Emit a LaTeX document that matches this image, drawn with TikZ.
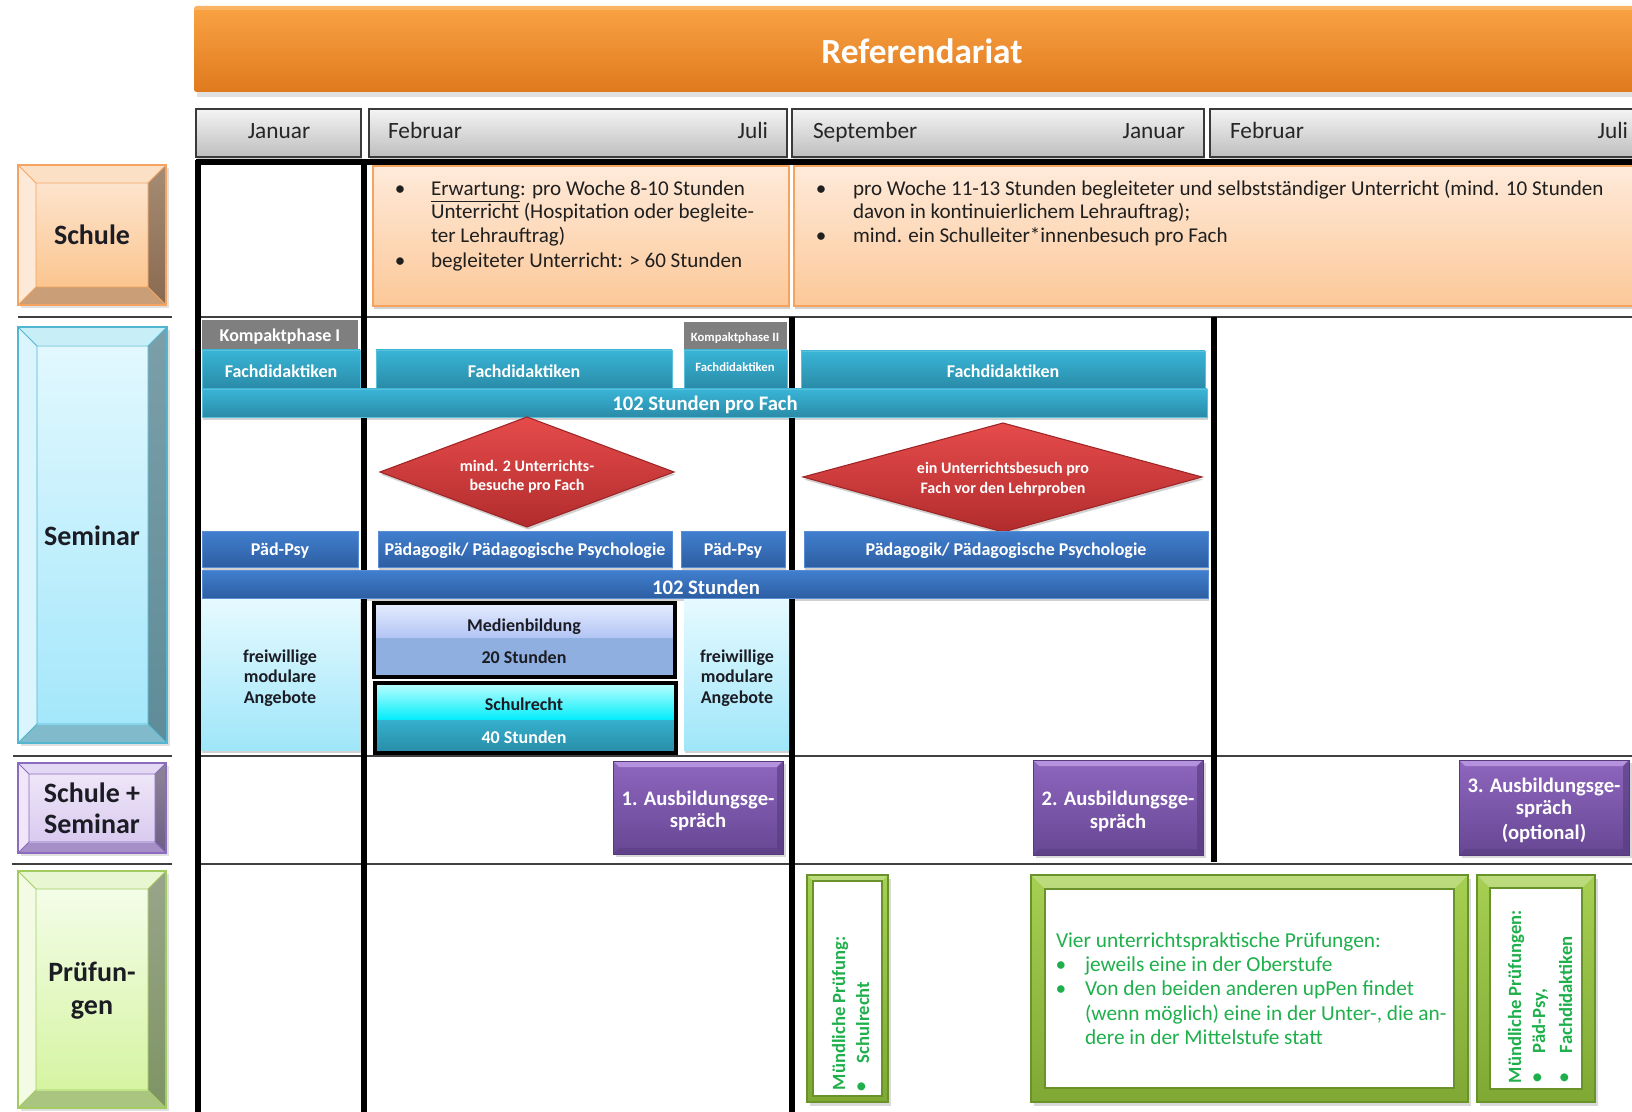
\documentclass[tikz,border=0pt]{standalone}
\usepackage{fontspec}
\setmainfont{Carlito}
\usetikzlibrary{calc}

% ---------- colours ----------
\definecolor{orT}{HTML}{F9A444}
\definecolor{orB}{HTML}{E0791E}
\definecolor{hdT}{HTML}{F4F4F4}
\definecolor{hdB}{HTML}{BEBEBE}
\definecolor{hdE}{HTML}{3A3A3A}
\definecolor{pchT}{HTML}{FEEADA}
\definecolor{pchB}{HTML}{FCC898}
\definecolor{pchE}{HTML}{F6A35E}
\definecolor{tlT}{HTML}{39B5D7}
\definecolor{tlB}{HTML}{2A8BA8}
\definecolor{tlE}{HTML}{5CC0DA}
\definecolor{blT}{HTML}{417FCF}
\definecolor{blB}{HTML}{2D5EA2}
\definecolor{blE}{HTML}{5A8ED4}
\definecolor{rdT}{HTML}{E64B4B}
\definecolor{rdB}{HTML}{B22C2D}
\definecolor{rdE}{HTML}{9E2526}
\definecolor{puT}{HTML}{8E66BE}
\definecolor{puB}{HTML}{674794}
\definecolor{puH}{HTML}{B592DE}
\definecolor{puD}{HTML}{553A7C}
\definecolor{gnT}{HTML}{A6D052}
\definecolor{gnB}{HTML}{7FA834}
\definecolor{gnD}{HTML}{6A922A}
\definecolor{gtxt}{HTML}{1FB04C}
\definecolor{cyT}{HTML}{E6FAFF}
\definecolor{cyB}{HTML}{9FE6F9}
\definecolor{kpG}{HTML}{7F7F7F}
\definecolor{gridC}{HTML}{404040}
\definecolor{darktxt}{HTML}{1C1C24}
\definecolor{mbT}{HTML}{E6EDFF}
\definecolor{mbM}{HTML}{B2C4F4}
\definecolor{mbL}{HTML}{8EAFE0}
\definecolor{srT}{HTML}{BEFFFF}
\definecolor{srM}{HTML}{00ECFA}
\definecolor{srL}{HTML}{35B0CE}
\definecolor{srB}{HTML}{288CA6}
% bevel sets: Fa/Fb face, Tp top, Lf left, Ra/Rb right, Bt bottom, Ed edge
\definecolor{scFa}{HTML}{FDE4CD}\definecolor{scFb}{HTML}{FBC58F}
\definecolor{scTp}{HTML}{FCE0C6}\definecolor{scLf}{HTML}{FDE9D8}
\definecolor{scRa}{HTML}{A68C74}\definecolor{scRb}{HTML}{886A50}
\definecolor{scBt}{HTML}{CA9F77}\definecolor{scEd}{HTML}{F4A460}
\definecolor{seFa}{HTML}{E2F8FE}\definecolor{seFb}{HTML}{A4E7FB}
\definecolor{seTp}{HTML}{C8EEF8}\definecolor{seLf}{HTML}{DAF5FD}
\definecolor{seRa}{HTML}{7C9FA9}\definecolor{seRb}{HTML}{5E8C98}
\definecolor{seBt}{HTML}{80BACB}\definecolor{seEd}{HTML}{52B6D0}
\definecolor{ssFa}{HTML}{EEE6F8}\definecolor{ssFb}{HTML}{D9CAEF}
\definecolor{ssTp}{HTML}{E4D9F4}\definecolor{ssLf}{HTML}{EFE7F9}
\definecolor{ssRa}{HTML}{8E8599}\definecolor{ssRb}{HTML}{6E5E86}
\definecolor{ssBt}{HTML}{A68FC6}\definecolor{ssEd}{HTML}{8A6BBD}
\definecolor{prFa}{HTML}{F3FDE8}\definecolor{prFb}{HTML}{D6F4A2}
\definecolor{prTp}{HTML}{E8F7D2}\definecolor{prLf}{HTML}{F3FBE5}
\definecolor{prRa}{HTML}{99A58B}\definecolor{prRb}{HTML}{7E9464}
\definecolor{prBt}{HTML}{A9C57F}\definecolor{prEd}{HTML}{A2CB60}

\newcommand{\fsz}[1]{\fontsize{#1}{#1}\selectfont}

% raised label box with bevelled rim
\newcommand{\bevelbox}[6]{%
  \fill[black, opacity=0.12] ({#1+3},{#2+3}) rectangle ({#3+3},{#4+3});
  \fill[#6Tp] (#1,#2) -- (#3,#2) -- ({#3-#5},{#2+#5}) -- ({#1+#5},{#2+#5}) -- cycle;
  \fill[#6Lf] (#1,#2) -- ({#1+#5},{#2+#5}) -- ({#1+#5},{#4-#5}) -- (#1,#4) -- cycle;
  \shade[top color=#6Ra, bottom color=#6Rb] (#3,#2) -- (#3,#4) -- ({#3-#5},{#4-#5}) -- ({#3-#5},{#2+#5}) -- cycle;
  \fill[#6Bt] (#1,#4) -- (#3,#4) -- ({#3-#5},{#4-#5}) -- ({#1+#5},{#4-#5}) -- cycle;
  \shade[top color=#6Fa, bottom color=#6Fb] ({#1+#5},{#2+#5}) rectangle ({#3-#5},{#4-#5});
  \draw[#6Ed, line width=0.7] ({#1+#5},{#2+#5}) rectangle ({#3-#5},{#4-#5})
     (#1,#2) -- ({#1+#5},{#2+#5}) (#3,#2) -- ({#3-#5},{#2+#5})
     (#1,#4) -- ({#1+#5},{#4-#5}) (#3,#4) -- ({#3-#5},{#4-#5});
  \draw[#6Ed, line width=1.4] (#1,#2) rectangle (#3,#4);
}

% purple meeting box
\newcommand{\purplebox}[4]{%
  \fill[black, opacity=0.15] ({#1+3},{#2+3}) rectangle ({#3+3},{#4+3});
  \shade[top color=puT, bottom color=puB] (#1,#2) rectangle (#3,#4);
  \fill[puH] (#1,#2) -- (#3,#2) -- ({#3-6},{#2+6}) -- ({#1+6},{#2+6}) -- cycle;
  \fill[puD, opacity=0.6] (#3,#2) -- (#3,#4) -- ({#3-6},{#4-6}) -- ({#3-6},{#2+6}) -- cycle;
  \fill[puD, opacity=0.45] (#1,#4) -- (#3,#4) -- ({#3-6},{#4-6}) -- ({#1+6},{#4-6}) -- cycle;
  \draw[puD, line width=0.6] (#1,#2) rectangle (#3,#4);
}

% green picture frame
\newcommand{\greenframe}[5]{%
  \fill[black, opacity=0.15] ({#1+3},{#2+4}) rectangle ({#3+3},{#4+4});
  \shade[top color=gnT, bottom color=gnB] (#1,#2) rectangle (#3,#4);
  \fill[white, opacity=0.25] (#1,#2) -- (#3,#2) -- ({#3-#5},{#2+#5}) -- ({#1+#5},{#2+#5}) -- cycle;
  \fill[white] ({#1+#5},{#2+#5}) rectangle ({#3-#5},{#4-#5});
  \draw[gnD, line width=1.5] ({#1+#5},{#2+#5}) rectangle ({#3-#5},{#4-#5});
  \draw[gnD, line width=0.8] (#1,#2) rectangle (#3,#4);
}

\tikzset{
  txt/.style={inner sep=0pt, outer sep=0pt},
  shdw/.style={preaction={fill=black, fill opacity=0.18,
      transform canvas={xshift=0.8pt, yshift=-2pt}}},
  monthbox/.style={top color=hdT, bottom color=hdB, draw=hdE, line width=1.6, shdw},
  schulebox/.style={top color=pchT, bottom color=pchB, draw=pchE, line width=1.2, shdw},
  tealbar/.style={top color=tlT, bottom color=tlB, draw=tlE, line width=0.6, shdw},
  bluebar/.style={top color=blT, bottom color=blB, draw=blE, line width=0.6, shdw},
  cyanbox/.style={top color=cyT, bottom color=cyB, shdw},
  visit/.style={top color=rdT, bottom color=rdB, draw=rdE, line width=0.8, shdw},
  gridthick/.style={line width=4.5, black},
  gridthin/.style={line width=1.6, gridC},
  labeltxt/.style={txt, font=\fsz{21}\bfseries, text=darktxt},
  monthtxt/.style={txt, font=\fsz{17.5}, text=black!85},
  bartxt/.style={txt, font=\fsz{13.5}\bfseries, text=white},
  smalltxt/.style={txt, font=\fsz{9.5}\bfseries, text=white},
  sumtxt/.style={txt, font=\fsz{15.5}\bfseries, text=white},
  visittxt/.style={txt, font=\fsz{12}\bfseries, text=white},
  schultxt/.style={txt, font=\fsz{15.8}, text=black!88},
  modtxt/.style={txt, font=\fsz{13.5}\bfseries, text=darktxt},
  talktxt/.style={txt, font=\fsz{15.5}\bfseries, text=white},
  examtxt/.style={txt, font=\fsz{16}, text=gtxt},
  oraltxt/.style={txt, font=\fsz{14}\bfseries, text=gtxt, rotate=90},
}

\begin{document}
\begin{tikzpicture}[x=0.75pt, y=-0.75pt]
\useasboundingbox (0,0) rectangle (1632,1112);
\fill[white] (0,0) rectangle (1632,1112);

% ---------- title banner ----------
\fill[black, opacity=0.12] (197,12) rectangle (1640,97);
\shade[top color=orT, bottom color=orB, rounded corners=2] (194,6) rectangle (1645,92);
\fill[white, opacity=0.18] (194,6) rectangle (1645,10);
\node[txt, font=\fsz{26.5}\bfseries, text=white, anchor=base] (title) at (922,64) {Referendariat};

% ---------- month headers ----------
\path[monthbox] (196,109) rectangle (361,157);
\path[monthbox] (369,109) rectangle (787,157);
\path[monthbox] (792,109) rectangle (1204,157);
\path[monthbox] (1210,109) rectangle (1645,157);
\node[monthtxt, anchor=base] (m1) at (279,139) {Januar};
\node[monthtxt, anchor=base west] (m2a) at (388,139) {Februar};
\node[monthtxt, anchor=base east] (m2b) at (768,139) {Juli};
\node[monthtxt, anchor=base west] (m3a) at (813,139) {September};
\node[monthtxt, anchor=base east] (m3b) at (1185,139) {Januar};
\node[monthtxt, anchor=base west] (m4a) at (1230,139) {Februar};
\node[monthtxt, anchor=base east] (m4b) at (1628,139) {Juli};

% ---------- grid ----------
\draw[gridthin] (18,317) -- (172,317) (195,317) -- (1632,317);
\draw[gridthin] (13,756) -- (172,756) (195,756) -- (1632,756);
\draw[gridthin] (12,864) -- (172,864) (195,864) -- (1632,864);
\draw[gridthick] (196,162) -- (1632,162);
\draw[gridthick] (198,160) -- (198,1112);
\draw[gridthick] (364,162) -- (364,1112);
\draw[gridthick] (792,317) -- (792,1112);
\draw[gridthick] (1214,317) -- (1214,862);

% ---------- row labels ----------
\bevelbox{18}{165}{166}{305}{18}{sc}
\node[labeltxt, anchor=base] (lschule) at (92,245) {Schule};
\bevelbox{18}{327}{167}{743}{19}{se}
\node[labeltxt, anchor=base] (lseminar) at (92,545) {Seminar};
\bevelbox{18}{763}{166}{853}{11}{ss}
\node[labeltxt, anchor=base] (lss1) at (92,802) {Schule +};
\node[labeltxt, anchor=base] (lss2) at (92,833) {Seminar};
\bevelbox{18}{871}{166}{1108}{18}{pr}
\node[labeltxt, anchor=base] (lpr1) at (92,981) {Prüfun-};
\node[labeltxt, anchor=base] (lpr2) at (92,1014) {gen};

% ---------- Schule row ----------
\path[schulebox] (373,166) rectangle (789,306);
\node[schultxt, anchor=base] (sb1) at (400,196) {\textbullet};
\node[schultxt, anchor=base west] (s1a) at (431,196) {\underline{Erwartung}: pro Woche 8-10 Stunden};
\node[schultxt, anchor=base west] (s1b) at (431,219) {Unterricht (Hospitation oder begleite-};
\node[schultxt, anchor=base west] (s1c) at (431,243) {ter Lehrauftrag)};
\node[schultxt, anchor=base] (sb2) at (400,268) {\textbullet};
\node[schultxt, anchor=base west] (s1d) at (431,268) {begleiteter Unterricht: > 60 Stunden};

\path[schulebox] (794,166) rectangle (1645,306);
\node[schultxt, anchor=base] (sb3) at (821,196) {\textbullet};
\node[schultxt, anchor=base west] (s2a) at (853,196) {pro Woche 11-13 Stunden begleiteter und selbstständiger Unterricht (mind. 10 Stunden};
\node[schultxt, anchor=base west] (s2b) at (853,219) {davon in kontinuierlichem Lehrauftrag);};
\node[schultxt, anchor=base] (sb4) at (821,243) {\textbullet};
\node[schultxt, anchor=base west] (s2c) at (853,243) {mind. ein Schulleiter*innenbesuch pro Fach};

% ---------- Seminar row: Fachdidaktiken ----------
\fill[kpG] (202,320) rectangle (358,350);
\node[bartxt] (kp1) at (280,337) {Kompaktphase I};
\fill[kpG] (684,322) rectangle (787,350);
\node[smalltxt] (kp2) at (735,338) {Kompaktphase II};

\path[tealbar] (202,350) rectangle (360,388);
\node[bartxt] (fd1) at (281,371) {Fachdidaktiken};
\path[tealbar] (376,350) rectangle (672,388);
\node[bartxt] (fd2) at (524,371) {Fachdidaktiken};
\path[tealbar] (684,350) rectangle (787,388);
\node[smalltxt] (fd3) at (735,367) {Fachdidaktiken};
\path[tealbar] (801,351) rectangle (1205,388);
\node[bartxt] (fd4) at (1003,371) {Fachdidaktiken};
\path[tealbar] (202,389) rectangle (1207,417);
\node[sumtxt] (fdsum) at (705,405) {102 Stunden pro Fach};

% ---------- Unterrichtsbesuche ----------
\path[visit] (380,472) -- (527,417) -- (674,472) -- (527,527) -- cycle;
\node[visittxt] (v1a) at (527,466) {mind. 2 Unterrichts-};
\node[visittxt] (v1b) at (527,486) {besuche pro Fach};
\path[visit] (803,477) -- (1003,423) -- (1202,477) -- (1003,532) -- cycle;
\node[visittxt] (v2a) at (1003,469) {ein Unterrichtsbesuch pro};
\node[visittxt] (v2b) at (1003,489) {Fach vor den Lehrproben};

% ---------- Seminar row: Paedagogik ----------
\path[bluebar] (202,531) rectangle (358,567);
\node[bartxt] (pp1) at (280,551) {Päd-Psy};
\path[bluebar] (378,531) rectangle (672,567);
\node[bartxt] (pp2) at (525,551) {Pädagogik/ Pädagogische Psychologie};
\path[bluebar] (681,531) rectangle (785,567);
\node[bartxt] (pp3) at (733,551) {Päd-Psy};
\path[bluebar] (804,531) rectangle (1208,567);
\node[bartxt] (pp4) at (1006,551) {Pädagogik/ Pädagogische Psychologie};
\path[bluebar] (202,570) rectangle (1208,598);
\node[sumtxt] (ppsum) at (706,587) {102 Stunden};

% ---------- modules ----------
\path[cyanbox] (201,599) rectangle (360,750);
\node[modtxt, anchor=base] (fm1a) at (280,662) {freiwillige};
\node[modtxt, anchor=base] (fm1b) at (280,682) {modulare};
\node[modtxt, anchor=base] (fm1c) at (280,703) {Angebote};
\path[cyanbox] (684,599) rectangle (789,750);
\node[modtxt, anchor=base] (fm2a) at (737,662) {freiwillige};
\node[modtxt, anchor=base] (fm2b) at (737,682) {modulare};
\node[modtxt, anchor=base] (fm2c) at (737,703) {Angebote};

\shade[top color=mbT, bottom color=mbM] (374,603) rectangle (675,638);
\fill[mbL] (374,638) rectangle (675,677);
\draw[black, line width=2.4] (374,603) rectangle (675,677);
\node[modtxt, anchor=base] (mb1) at (524,631) {Medienbildung};
\node[modtxt, anchor=base] (mb2) at (524,663) {20 Stunden};

\shade[top color=srT, bottom color=srM] (375,683) rectangle (676,720);
\shade[top color=srL, bottom color=srB] (375,720) rectangle (676,753);
\draw[black, line width=2.4] (375,683) rectangle (676,753);
\node[modtxt, anchor=base] (sr1) at (524,710) {Schulrecht};
\node[modtxt, anchor=base, text=white] (sr2) at (524,743) {40 Stunden};

% ---------- Schule + Seminar row ----------
\purplebox{613}{761}{783}{854}
\node[talktxt, anchor=base] (ag1a) at (698,805) {1. Ausbildungsge-};
\node[talktxt, anchor=base] (ag1b) at (698,827) {spräch};
\purplebox{1033}{760}{1203}{855}
\node[talktxt, anchor=base] (ag2a) at (1118,805) {2. Ausbildungsge-};
\node[talktxt, anchor=base] (ag2b) at (1118,828) {spräch};
\purplebox{1459}{760}{1629}{855}
\node[talktxt, anchor=base] (ag3a) at (1544,792) {3. Ausbildungsge-};
\node[talktxt, anchor=base] (ag3b) at (1544,814) {spräch};
\node[talktxt, anchor=base] (ag3c) at (1544,839) {(optional)};

% ---------- Pruefungen row ----------
\greenframe{807}{875}{888}{1102}{6}
\node[oraltxt, anchor=base west] (op1a) at (845,1090) {Mündliche Prüfung:};
\node[oraltxt] (op1b) at (862,1087) {\textbullet};
\node[oraltxt, anchor=base west] (op1c) at (869,1063) {Schulrecht};

\greenframe{1031}{875}{1468}{1102}{14}
\node[examtxt, anchor=base west] (up0) at (1056,947) {Vier unterrichtspraktische Prüfungen:};
\node[examtxt, anchor=base] (upb1) at (1061,971) {\textbullet};
\node[examtxt, anchor=base west] (up1) at (1085,971) {jeweils eine in der Oberstufe};
\node[examtxt, anchor=base] (upb2) at (1061,995) {\textbullet};
\node[examtxt, anchor=base west] (up2) at (1085,995) {Von den beiden anderen upPen findet};
\node[examtxt, anchor=base west] (up3) at (1085,1020) {(wenn möglich) eine in der Unter-, die an-};
\node[examtxt, anchor=base west] (up4) at (1085,1044) {dere in der Mittelstufe statt};

\greenframe{1477}{875}{1595}{1102}{13}
\node[oraltxt, anchor=base west] (op2a) at (1521,1083) {Mündliche Prüfungen:};
\node[oraltxt] (op2b) at (1538,1078) {\textbullet};
\node[oraltxt, anchor=base west] (op2c) at (1545,1053) {Päd-Psy,};
\node[oraltxt] (op2d) at (1565,1078) {\textbullet};
\node[oraltxt, anchor=base west] (op2e) at (1572,1053) {Fachdidaktiken};
\end{tikzpicture}
\end{document}
